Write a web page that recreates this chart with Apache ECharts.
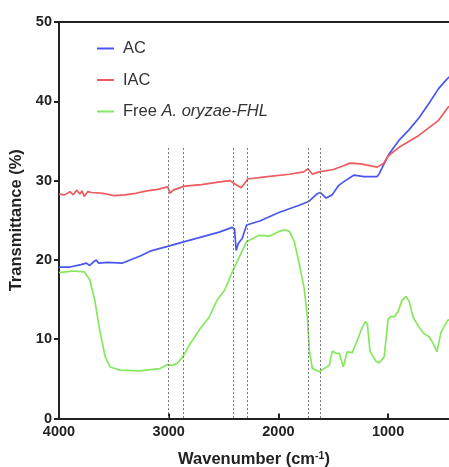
<!DOCTYPE html>
<html>
<head>
<meta charset="utf-8">
<script src="https://cdn.jsdelivr.net/npm/echarts@6/dist/echarts.min.js"></script>
<style>html,body{margin:0;padding:0;background:#fff;}#c{width:449px;height:467px;}</style>
</head>
<body>
<div id="c"></div>
<script>
// ---- data ----
var seriesNames = ['AC', 'IAC', 'Free A. oryzae-FHL'];
var xTickValues = [1000, 2000, 3000, 4000];
var markerWavenumbers = [3006, 2867, 2415, 2285, 1727, 1621];
var markerTop = 34.1;

var acData = [[4000,19.1],[3900,19.1],[3800,19.4],[3750,19.6],[3720,19.3],[3680,19.8],[3660,20.0],[3640,19.6],[3560,19.7],[3420,19.6],[3260,20.5],[3170,21.1],[3010,21.7],[2855,22.3],[2540,23.5],[2420,24.1],[2400,23.9],[2385,21.2],[2365,22.1],[2330,22.7],[2290,24.4],[2170,24.9],[1990,26.0],[1810,26.9],[1720,27.4],[1650,28.3],[1620,28.5],[1565,27.8],[1510,28.2],[1450,29.4],[1400,29.9],[1310,30.7],[1220,30.5],[1100,30.5],[1080,30.9],[990,33.4],[900,35.1],[810,36.4],[720,37.9],[630,39.7],[540,41.6],[470,42.7],[420,43.4]];

var iacData = [[4000,28.3],[3950,28.2],[3900,28.6],[3870,28.2],[3840,28.8],[3810,28.3],[3790,28.7],[3770,28.0],[3740,28.6],[3700,28.5],[3600,28.4],[3500,28.1],[3400,28.2],[3300,28.4],[3200,28.7],[3100,28.9],[3010,29.2],[2985,28.4],[2960,28.8],[2855,29.3],[2700,29.5],[2550,29.8],[2440,30.0],[2400,29.6],[2340,29.1],[2300,29.8],[2280,30.2],[2100,30.5],[1900,30.8],[1770,31.1],[1730,31.5],[1690,30.8],[1630,31.1],[1500,31.4],[1400,31.9],[1350,32.2],[1250,32.1],[1100,31.7],[1040,32.2],[1000,33.1],[900,34.2],[720,35.7],[540,37.6],[450,39.3],[400,39.8]];

var freeData = [[4000,18.4],[3870,18.6],[3770,18.5],[3720,17.5],[3675,15.0],[3630,11.2],[3580,7.8],[3535,6.5],[3445,6.1],[3265,6.0],[3080,6.3],[3010,6.8],[2965,6.7],[2920,7.0],[2870,7.8],[2810,9.3],[2720,11.2],[2630,12.8],[2560,14.9],[2490,16.2],[2420,18.5],[2355,20.4],[2290,22.3],[2175,23.1],[2080,23.0],[1990,23.6],[1945,23.8],[1900,23.6],[1855,22.3],[1810,19.5],[1765,16.4],[1736,12.8],[1718,8.6],[1690,6.3],[1627,5.9],[1536,6.7],[1509,8.5],[1473,8.2],[1445,8.2],[1409,6.5],[1373,8.4],[1327,8.3],[1282,9.8],[1245,11.2],[1209,12.2],[1190,12.0],[1165,8.5],[1110,7.2],[1082,7.0],[1036,7.8],[1000,12.5],[973,12.9],[945,12.8],[909,13.5],[873,14.9],[836,15.4],[809,14.8],[773,12.8],[718,11.5],[673,10.7],[627,10.3],[591,9.5],[555,8.4],[518,10.9],[455,12.4],[420,12.6]];

// ---- chart ----
var chart = echarts.init(document.getElementById('c'), null, {renderer: 'canvas'});
var axisColor = '#222';
var font = 'Liberation Sans, Arial, sans-serif';
var xMin = 445, xMax = 4000;
var markLineData = markerWavenumbers.map(function (w) {
  return [{coord: [w, markerTop]}, {coord: [w, 0]}];
});
function lineSeries(name, data, color, extra) {
  var s = {
    name: name, type: 'line', data: data, symbol: 'none', smooth: false,
    lineStyle: {color: color, width: 1.7}, itemStyle: {color: color},
    z: 3
  };
  if (extra) for (var k in extra) s[k] = extra[k];
  return s;
}
chart.setOption({
  animation: false,
  backgroundColor: '#fff',
  textStyle: {fontFamily: font},
  grid: {left: 59, right: 0, top: 22, bottom: 48.5, containLabel: false, outerBoundsMode: 'none'},
  legend: {
    orient: 'vertical', left: 92, top: 35, itemWidth: 17, itemHeight: 2, itemGap: 14.5,
    icon: 'rect',
    data: seriesNames,
    textStyle: {color: '#333', fontSize: 16.5, fontFamily: font, padding: [0, 0, 0, 4],
      rich: {i: {fontStyle: 'italic', color: '#333', fontSize: 16.5, fontFamily: font}}},
    formatter: function (n) {
      if (n === seriesNames[2]) return 'Free {i|A. oryzae-FHL}';
      return n;
    }
  },
  xAxis: [{
    type: 'value', inverse: true, min: xMin, max: xMax,
    axisLine: {show: true, onZero: false, lineStyle: {color: axisColor, width: 2}},
    axisTick: {show: true, inside: true, length: 5, customValues: xTickValues, lineStyle: {color: axisColor, width: 2}},
    axisLabel: {customValues: xTickValues, color: axisColor, fontWeight: 'bold', fontSize: 14.5, margin: 6,
      formatter: function (v) { return String(v); }},
    splitLine: {show: false},
    name: 'Wavenumber (cm{sup|-1})', nameLocation: 'middle', nameGap: 32,
    nameTextStyle: {color: axisColor, fontWeight: 'bold', fontSize: 16.5, verticalAlign: 'top',
      rich: {sup: {fontSize: 10.5, fontWeight: 'bold', color: axisColor, verticalAlign: 'top', padding: [0, 0, 7, 0]}}}
  }, {
    type: 'value', inverse: true, min: xMin, max: xMax, position: 'top',
    axisLine: {show: true, onZero: false, lineStyle: {color: axisColor, width: 2}},
    axisTick: {show: false}, axisLabel: {show: false}, splitLine: {show: false}
  }],
  yAxis: {
    type: 'value', min: 0, max: 50, interval: 10,
    axisLine: {show: true, lineStyle: {color: axisColor, width: 2}},
    axisTick: {show: true, inside: false, length: 5, lineStyle: {color: axisColor, width: 2}},
    axisLabel: {color: axisColor, fontWeight: 'bold', fontSize: 14.5, margin: 7},
    splitLine: {show: false},
    name: 'Transmittance (%)', nameLocation: 'middle', nameGap: 27,
    nameTextStyle: {color: axisColor, fontWeight: 'bold', fontSize: 16.5}
  },
  series: [
    lineSeries(seriesNames[0], acData, '#4a56f0', {
      markLine: {silent: true, symbol: 'none', label: {show: false},
        lineStyle: {color: '#777', width: 1, type: [2, 2]}, data: markLineData}
    }),
    lineSeries(seriesNames[1], iacData, '#ee5a5e'),
    lineSeries(seriesNames[2], freeData, '#86e85c')
  ]
});
</script>
</body>
</html>
